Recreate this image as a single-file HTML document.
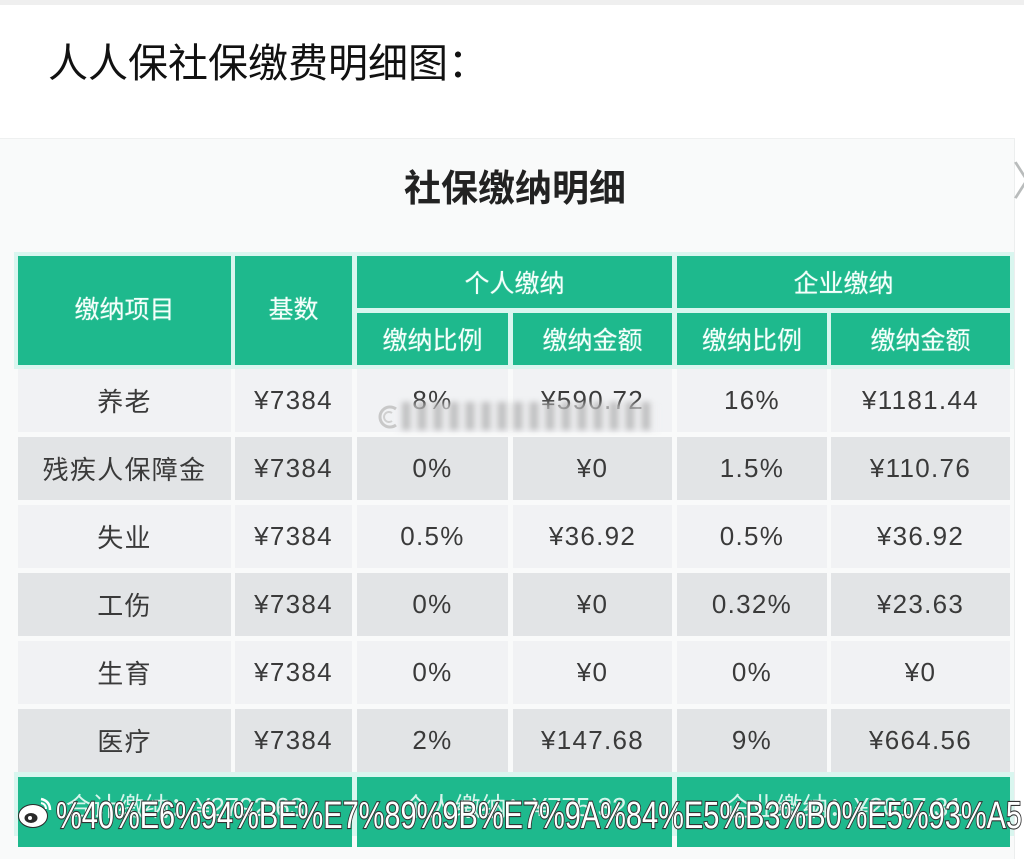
<!DOCTYPE html>
<html>
<head>
<meta charset="utf-8">
<style>
  html,body{margin:0;padding:0;}
  body{width:1024px;height:836px;overflow:hidden;background:#ffffff;position:relative;
       font-family:"Liberation Sans","Noto Sans CJK SC",sans-serif;}
  .topband{position:absolute;left:0;top:0;width:1024px;height:5px;background:#efefef;}
  .title{position:absolute;left:48px;top:38px;font-size:40px;line-height:52px;color:#111;
         font-family:"Liberation Sans","Noto Sans CJK SC",sans-serif;font-weight:400;white-space:nowrap;}
  .card{position:absolute;left:0;top:138px;width:1014px;height:720px;background:#f9fafa;
        border-top:1px solid #eef0f0;border-right:1px solid #eceeee;}
  .chev{position:absolute;left:1012px;top:160px;font-size:40px;color:#b9bcbc;line-height:44px;
        font-family:"DejaVu Sans",sans-serif;}
  .ctitle{position:absolute;left:0;width:1030px;top:163px;text-align:center;font-size:37px;line-height:52px;
          font-weight:700;color:#222;font-family:"Liberation Sans","Noto Sans CJK SC",sans-serif;letter-spacing:0px;}
  .hbg{position:absolute;left:14px;top:252px;width:1000px;height:117px;background:#d9f6ef;}
  .tbg{position:absolute;left:14px;top:772px;width:1000px;height:64px;background:#d9f6ef;}
  .c{position:absolute;display:flex;align-items:center;justify-content:center;white-space:nowrap;}
  .h{background:#1eb98d;color:#f4fffb;font-size:25px;font-family:"Liberation Sans","Noto Sans CJK SC",sans-serif;
     text-shadow:0 0 1px rgba(255,255,255,0.6);}
  .d{font-size:26px;color:#3a3a3a;font-family:"Liberation Sans","Noto Sans CJK SC",sans-serif;letter-spacing:1.3px;}
  .l{background:#f1f2f4;}
  .k{background:#e2e4e6;}
  .t{background:#1eb98d;color:#d8f5ec;font-size:26px;font-family:"Liberation Sans","Noto Sans CJK SC",sans-serif;}
  .blur{position:absolute;left:402px;top:402px;width:250px;height:28px;
        background:repeating-linear-gradient(90deg,rgba(150,150,150,0.55) 0 8px,rgba(225,225,225,0.4) 8px 16px);
        filter:blur(3px);}
  .blurcover{position:absolute;left:395px;top:405px;width:265px;height:28px;background:rgba(241,242,244,0.45);filter:blur(2px);}
</style>
</head>
<body>
<div class="topband"></div>
<div class="title">人人保社保缴费明细图：</div>

<div class="card"></div>
<div class="chev">〉</div>
<div class="ctitle">社保缴纳明细</div>

<div class="hbg"></div>
<div class="tbg"></div>

<!-- header -->
<div class="c h" style="left:18px;top:256px;width:213px;height:109px;"><span style="margin-top:-6px">缴纳项目</span></div>
<div class="c h" style="left:235px;top:256px;width:117px;height:109px;"><span style="margin-top:-6px">基数</span></div>
<div class="c h" style="left:357px;top:256px;width:315px;height:52px;">个人缴纳</div>
<div class="c h" style="left:677px;top:256px;width:333px;height:52px;">企业缴纳</div>
<div class="c h" style="left:357px;top:313px;width:151px;height:52px;">缴纳比例</div>
<div class="c h" style="left:513px;top:313px;width:159px;height:52px;">缴纳金额</div>
<div class="c h" style="left:677px;top:313px;width:150px;height:52px;">缴纳比例</div>
<div class="c h" style="left:831px;top:313px;width:179px;height:52px;">缴纳金额</div>

<!-- row 1 养老 -->
<div class="c d l" style="left:18px;top:369px;width:213px;height:63px;">养老</div>
<div class="c d l" style="left:235px;top:369px;width:117px;height:63px;">¥7384</div>
<div class="c d l" style="left:357px;top:369px;width:151px;height:63px;">8%</div>
<div class="c d l" style="left:513px;top:369px;width:159px;height:63px;">¥590.72</div>
<div class="c d l" style="left:677px;top:369px;width:150px;height:63px;">16%</div>
<div class="c d l" style="left:831px;top:369px;width:179px;height:63px;">¥1181.44</div>

<!-- row 2 残疾人保障金 -->
<div class="c d k" style="left:18px;top:437px;width:213px;height:63px;">残疾人保障金</div>
<div class="c d k" style="left:235px;top:437px;width:117px;height:63px;">¥7384</div>
<div class="c d k" style="left:357px;top:437px;width:151px;height:63px;">0%</div>
<div class="c d k" style="left:513px;top:437px;width:159px;height:63px;">¥0</div>
<div class="c d k" style="left:677px;top:437px;width:150px;height:63px;">1.5%</div>
<div class="c d k" style="left:831px;top:437px;width:179px;height:63px;">¥110.76</div>

<!-- row 3 失业 -->
<div class="c d l" style="left:18px;top:505px;width:213px;height:63px;">失业</div>
<div class="c d l" style="left:235px;top:505px;width:117px;height:63px;">¥7384</div>
<div class="c d l" style="left:357px;top:505px;width:151px;height:63px;">0.5%</div>
<div class="c d l" style="left:513px;top:505px;width:159px;height:63px;">¥36.92</div>
<div class="c d l" style="left:677px;top:505px;width:150px;height:63px;">0.5%</div>
<div class="c d l" style="left:831px;top:505px;width:179px;height:63px;">¥36.92</div>

<!-- row 4 工伤 -->
<div class="c d k" style="left:18px;top:573px;width:213px;height:63px;">工伤</div>
<div class="c d k" style="left:235px;top:573px;width:117px;height:63px;">¥7384</div>
<div class="c d k" style="left:357px;top:573px;width:151px;height:63px;">0%</div>
<div class="c d k" style="left:513px;top:573px;width:159px;height:63px;">¥0</div>
<div class="c d k" style="left:677px;top:573px;width:150px;height:63px;">0.32%</div>
<div class="c d k" style="left:831px;top:573px;width:179px;height:63px;">¥23.63</div>

<!-- row 5 生育 -->
<div class="c d l" style="left:18px;top:641px;width:213px;height:63px;">生育</div>
<div class="c d l" style="left:235px;top:641px;width:117px;height:63px;">¥7384</div>
<div class="c d l" style="left:357px;top:641px;width:151px;height:63px;">0%</div>
<div class="c d l" style="left:513px;top:641px;width:159px;height:63px;">¥0</div>
<div class="c d l" style="left:677px;top:641px;width:150px;height:63px;">0%</div>
<div class="c d l" style="left:831px;top:641px;width:179px;height:63px;">¥0</div>

<!-- row 6 医疗 -->
<div class="c d k" style="left:18px;top:709px;width:213px;height:63px;">医疗</div>
<div class="c d k" style="left:235px;top:709px;width:117px;height:63px;">¥7384</div>
<div class="c d k" style="left:357px;top:709px;width:151px;height:63px;">2%</div>
<div class="c d k" style="left:513px;top:709px;width:159px;height:63px;">¥147.68</div>
<div class="c d k" style="left:677px;top:709px;width:150px;height:63px;">9%</div>
<div class="c d k" style="left:831px;top:709px;width:179px;height:63px;">¥664.56</div>

<!-- total row -->
<div class="c t" style="left:18px;top:777px;width:334px;height:70px;align-items:flex-start;"><span style="margin-top:10px">合计缴纳：¥2792.63</span></div>
<div class="c t" style="left:357px;top:777px;width:315px;height:70px;align-items:flex-start;"><span style="margin-top:10px">个人缴纳：¥775.32</span></div>
<div class="c t" style="left:677px;top:777px;width:333px;height:70px;align-items:flex-start;"><span style="margin-top:10px">企业缴纳：¥2017.31</span></div>

<!-- blurred overlay on first row -->
<div class="blurcover"></div>
<div class="blur"></div>
<svg style="position:absolute;left:374px;top:403px;" width="30" height="28" viewBox="0 0 30 28">
  <path d="M22 6 A10 10 0 1 0 22 22" fill="none" stroke="#c8c8c8" stroke-width="3"/>
  <path d="M18 10 A5 5 0 1 0 18 18" fill="none" stroke="#d0d0d0" stroke-width="2"/>
</svg>

<!-- weibo watermark -->
<svg style="position:absolute;left:0;top:780px;" width="1024" height="56" viewBox="0 780 1024 56">
  <g stroke="#2a2a2a" stroke-width="2" fill="#ffffff" paint-order="stroke">
    <ellipse cx="33" cy="816" rx="14" ry="11"/>
    <ellipse cx="31" cy="818" rx="6.5" ry="5" fill="#2a2a2a" stroke="none"/>
    <circle cx="30" cy="818" r="2" fill="#fff" stroke="none"/>
    <path d="M41 799 Q50 801 50 810" fill="none" stroke="#fff" stroke-width="2.5"/>
    <path d="M41 803 Q46 804 46 809" fill="none" stroke="#fff" stroke-width="2"/>
  </g>
  <text x="56" y="828" font-family="Liberation Sans, sans-serif" font-size="38" textLength="966" lengthAdjust="spacingAndGlyphs"
        fill="#ffffff" stroke="#333333" stroke-width="2.2" paint-order="stroke">%40%E6%94%BE%E7%89%9B%E7%9A%84%E5%B3%B0%E5%93%A5</text>
</svg>
</body>
</html>
